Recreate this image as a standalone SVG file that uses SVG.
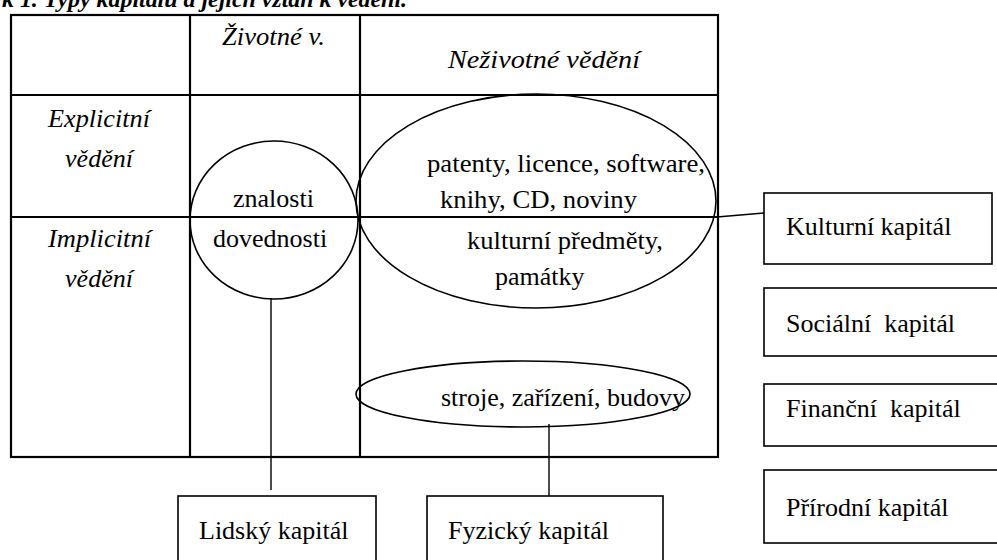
<svg xmlns="http://www.w3.org/2000/svg" width="997" height="560" viewBox="0 0 997 560">
<style>
text{font-family:"Liberation Serif","Times New Roman",serif;font-size:26px;fill:#000}
.it{font-style:italic}
.ti{font-style:italic;font-weight:bold;font-size:24px}
.grid{stroke:#000;stroke-width:2.2;fill:none}
.ell{stroke:#000;stroke-width:1.6;fill:none}
.box{stroke:#000;stroke-width:1.6;fill:#fff}
.con{stroke:#000;stroke-width:1.4;fill:none}
</style>
<rect width="997" height="560" fill="#fff"/>
<text class="ti" x="2" y="7" textLength="405" lengthAdjust="spacingAndGlyphs">k 1. Typy kapitálů a jejich vztah k vědění.</text>
<g id="table">
<rect class="grid" x="11" y="15" width="707" height="442"/>
<line class="grid" x1="190" y1="15" x2="190" y2="457"/>
<line class="grid" x1="360" y1="15" x2="360" y2="457"/>
<line class="grid" x1="11" y1="95" x2="718" y2="95"/>
<line class="grid" x1="11" y1="217" x2="718" y2="217"/>
<text class="it" x="222" y="45" textLength="103" lengthAdjust="spacingAndGlyphs">Životné v.</text>
<text class="it" x="448" y="68" textLength="192" lengthAdjust="spacingAndGlyphs">Neživotné vědění</text>
<text class="it" x="48" y="127" textLength="102" lengthAdjust="spacingAndGlyphs">Explicitní</text>
<text class="it" x="65" y="167" textLength="68" lengthAdjust="spacingAndGlyphs">vědění</text>
<text class="it" x="48" y="247" textLength="103" lengthAdjust="spacingAndGlyphs">Implicitní</text>
<text class="it" x="65" y="287" textLength="68" lengthAdjust="spacingAndGlyphs">vědění</text>
</g>
<g id="ellipse-lidsky">
<ellipse class="ell" cx="274" cy="220" rx="84" ry="79"/>
<text x="233" y="207">znalosti</text>
<text x="213" y="247">dovednosti</text>
</g>
<g id="ellipse-kulturni">
<ellipse class="ell" cx="536" cy="201" rx="180" ry="107"/>
<text x="427" y="172" textLength="278" lengthAdjust="spacingAndGlyphs">patenty, licence, software,</text>
<text x="440" y="208" textLength="197" lengthAdjust="spacingAndGlyphs">knihy, CD, noviny</text>
<text x="467" y="249" textLength="196" lengthAdjust="spacingAndGlyphs">kulturní předměty,</text>
<text x="495" y="285">památky</text>
</g>
<g id="ellipse-fyzicky">
<ellipse class="ell" cx="523" cy="394" rx="167" ry="33"/>
<text x="441" y="406">stroje, zařízení, budovy</text>
</g>
<g id="connectors">
<line class="con" x1="271" y1="298" x2="271" y2="490"/>
<line class="con" x1="549" y1="424" x2="549" y2="496"/>
<line class="con" x1="717" y1="217" x2="764" y2="213"/>
</g>
<g id="lidsky-kapital">
<rect class="box" x="178" y="496" width="198" height="70"/>
<text x="199" y="539">Lidský kapitál</text>
</g>
<g id="fyzicky-kapital">
<rect class="box" x="427" y="496" width="236" height="70"/>
<text x="448" y="539">Fyzický kapitál</text>
</g>
<g id="kulturni-kapital">
<rect class="box" x="764" y="193" width="228" height="71"/>
<text x="786" y="235">Kulturní kapitál</text>
</g>
<g id="socialni-kapital">
<rect class="box" x="764" y="288" width="240" height="68"/>
<text x="786" y="332" xml:space="preserve">Sociální  kapitál</text>
</g>
<g id="financni-kapital">
<rect class="box" x="764" y="384" width="240" height="62"/>
<text x="786" y="417" xml:space="preserve">Finanční  kapitál</text>
</g>
<g id="prirodni-kapital">
<rect class="box" x="764" y="470" width="240" height="73"/>
<text x="786" y="516">Přírodní kapitál</text>
</g>
</svg>
